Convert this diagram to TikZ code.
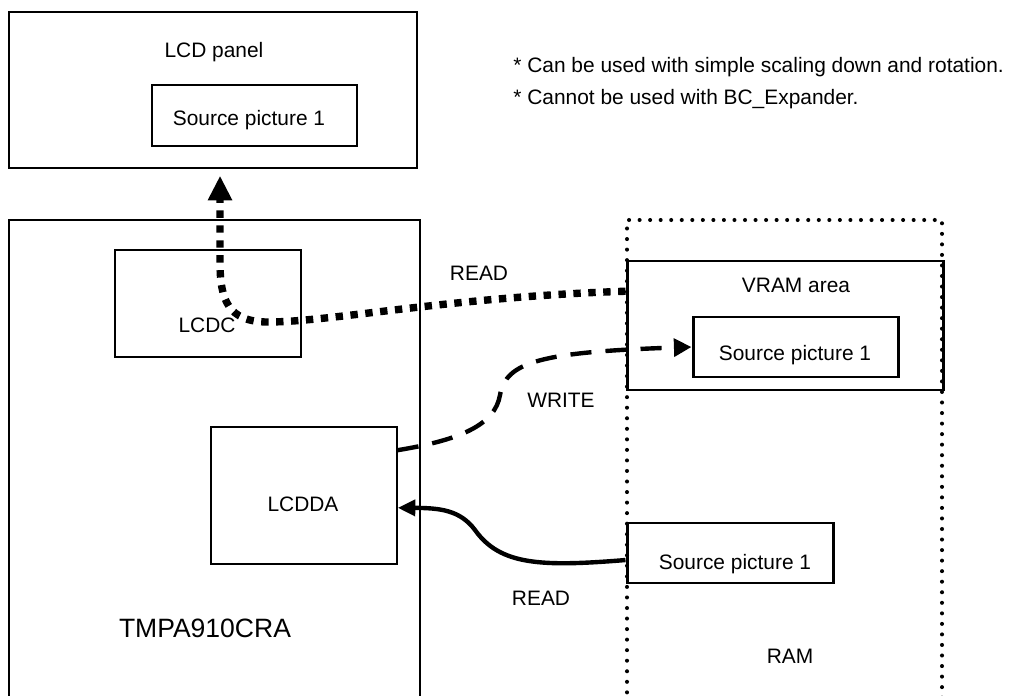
\documentclass[tikz,border=0pt]{standalone}
\usepackage{fontspec}
\setmainfont{Liberation Sans}
\usepackage{tikz}
\usetikzlibrary{arrows.meta,fit,calc}
\tikzstyle{thinbox} = [draw, line width=0.8pt, inner sep=0pt]
\tikzstyle{thickbox} = [draw, line width=1.7pt, inner sep=0pt]
\tikzstyle{dotbox} = [draw, line width=2.3pt, line cap=round, dash pattern=on 0pt off 6pt, inner sep=0pt]
\tikzstyle{lbl} = [anchor=base, inner sep=0pt, font=\fontsize{11.9}{14}\selectfont]
\tikzstyle{rdline} = [line width=4.2pt, dash pattern=on 4.2pt off 4.3pt, -{Triangle[length=14pt,width=13pt]}]
\tikzstyle{wrline} = [line width=2.5pt, dash pattern=on 12pt off 8pt, -{Triangle[length=10pt,width=10pt]}]
\tikzstyle{rdsolid} = [line width=2.5pt, -{Triangle[length=10pt,width=9pt]}]

\begin{document}
\begin{tikzpicture}[x=0.02cm,y=-0.02cm]
\useasboundingbox (0,0) rectangle (1014,696);

% boxes
\node[thinbox, fit={(9,12) (417,168)}] (lcd) {};
\node[thickbox, fit={(152,85) (357,146)}] (lsrc) {};
\node[thinbox, fit={(9,220) (420,720)}] (tmpa) {};
\node[thinbox, fit={(115,250) (301,357)}] (lcdc) {};
\node[thinbox, fit={(211,427) (397,564)}] (lcdda) {};
\node[dotbox, fit={(627,220) (942,720)}] (ram) {};
\node[thickbox, fit={(627,261) (943,390)}] (vram) {};
\node[thickbox, fit={(693,317) (898,377)}] (vsrc) {};
\node[thickbox, fit={(627,523) (833,583)}] (rsrc) {};

% texts
\node[lbl] (lcdtxt) at (214,58) {LCD panel};
\node[lbl] (lsrctxt) at (249,126) {Source picture 1};
\node[lbl, anchor=base west] (note1) at (513,73) {* Can be used with simple scaling down and rotation.};
\node[lbl, anchor=base west] (note2) at (513,105) {* Cannot be used with BC\_Expander.};
\node[lbl] (lcdctxt) at (207,332) {LCDC};
\node[lbl] (lcddatxt) at (303,511) {LCDDA};
\node[lbl, font=\fontsize{15.1}{18}\selectfont] (tmpatxt) at (205,637) {TMPA910CRA};
\node[lbl] (vramtxt) at (796,292) {VRAM area};
\node[lbl] (vsrctxt) at (795,360) {Source picture 1};
\node[lbl] (rsrctxt) at (735,569) {Source picture 1};
\node[lbl] (ramtxt) at (790,663) {RAM};
\node[lbl] (read1) at (479,280) {READ};
\node[lbl] (write) at (561,407) {WRITE};
\node[lbl] (read2) at (541,605) {READ};

% connectors
\draw[rdline] ([yshift=19.5pt]vram.west) .. controls (450,297) and (330,322) .. (268,322)
    .. controls (228,322) and (220,300) .. (220,262) -- ([xshift=4pt,yshift=-4pt]lcd.south);
\draw[wrline] ([yshift=25.8pt]lcdda.east) .. controls (460,440) and (495,425) .. (500,395)
    .. controls (506,362) and (540,352) .. (vsrc.west);
\draw[rdsolid] ([yshift=-4pt]rsrc.west) .. controls (540,567) and (500,565) .. (475,530)
    .. controls (460,510) and (440,508) .. ([yshift=-7pt]lcdda.east);
\end{tikzpicture}
\end{document}
